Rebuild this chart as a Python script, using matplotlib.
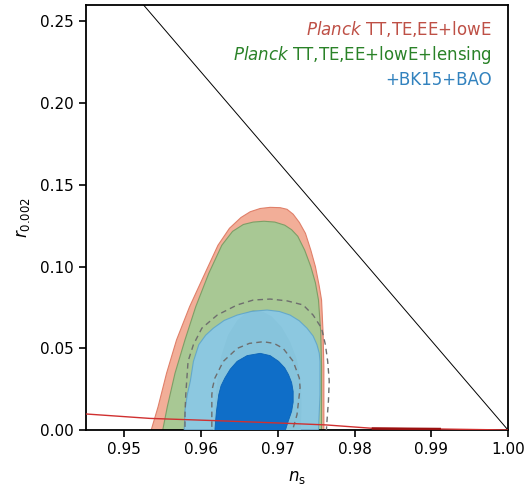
import matplotlib
matplotlib.use("Agg")
import matplotlib.pyplot as plt

plt.rcParams['mathtext.fontset'] = 'custom'
plt.rcParams['mathtext.it'] = 'DejaVu Sans:italic'
plt.rcParams['mathtext.rm'] = 'DejaVu Sans'

# ---- data (ns, r) contour outlines ----
red95_ns = [0.9535, 0.9535, 0.9544, 0.9555, 0.9568, 0.9585, 0.9605, 0.9622, 0.9637, 0.9652,
            0.9664, 0.9677, 0.9690, 0.9703, 0.9712, 0.9720, 0.9728, 0.9736, 0.9743, 0.9749,
            0.9754, 0.9757, 0.9759, 0.9760, 0.9760, 0.9760, 0.9760]
red95_r = [-0.01, 0.0, 0.0143, 0.0347, 0.0551, 0.0754, 0.0958, 0.1130, 0.1234, 0.1300,
           0.1335, 0.1355, 0.1362, 0.1360, 0.1350, 0.1320, 0.1270, 0.1203, 0.1100, 0.0999,
           0.0880, 0.0795, 0.0592, 0.0387, 0.0183, 0.0, -0.01]

green95_ns = [0.9550, 0.9550, 0.9556, 0.9566, 0.9579, 0.9593, 0.9610, 0.9627, 0.9641, 0.9655,
              0.9668, 0.9682, 0.9696, 0.9709, 0.9718, 0.9726, 0.9735, 0.9743, 0.9749,
              0.9753, 0.9756, 0.9757, 0.9757, 0.9757, 0.9757]
green95_r = [-0.01, 0.0, 0.0143, 0.0347, 0.0551, 0.0754, 0.0958, 0.1130, 0.1215, 0.1257,
             0.1272, 0.1277, 0.1272, 0.1253, 0.1225, 0.1185, 0.1100, 0.0999, 0.0900,
             0.0795, 0.0592, 0.0387, 0.0183, 0.0, -0.01]

green68_ns = [0.9615, 0.9616, 0.9618, 0.9621, 0.9626, 0.9635, 0.9647, 0.9658, 0.9668, 0.9680,
              0.9692, 0.9705, 0.9716, 0.9725, 0.9730, 0.9731, 0.9730, 0.9730]
green68_r = [-0.01, 0.0, 0.015, 0.030, 0.045, 0.058, 0.067, 0.0715, 0.0732, 0.0725,
             0.0695, 0.063, 0.054, 0.043, 0.030, 0.015, 0.0, -0.01]

blue95_ns = [0.9577, 0.9578, 0.9579, 0.9582, 0.9586, 0.9590, 0.9597, 0.9606, 0.9616, 0.9630,
             0.9647, 0.9666, 0.9686, 0.9702, 0.9716, 0.9728, 0.9738, 0.9746, 0.9751, 0.9754,
             0.9755, 0.9755, 0.9753, 0.9753]
blue95_r = [-0.01, 0.0, 0.0120, 0.0216, 0.0300, 0.0420, 0.0522, 0.0580, 0.0623, 0.0670,
            0.0703, 0.0726, 0.0734, 0.0725, 0.0703, 0.0668, 0.0623, 0.0575, 0.0522, 0.0470,
            0.0420, 0.0216, 0.0, -0.01]

blue68_ns = [0.9618, 0.9618, 0.9619, 0.9620, 0.9623, 0.9626, 0.9631, 0.9638, 0.9647, 0.9660,
             0.9677, 0.9690, 0.9701, 0.9709, 0.9714, 0.9718, 0.9720, 0.9720, 0.9718, 0.9714,
             0.9710, 0.9710]
blue68_r = [-0.01, 0.0, 0.0060, 0.0114, 0.0216, 0.0270, 0.0318, 0.0372, 0.0420, 0.0455,
            0.0469, 0.0455, 0.0420, 0.0380, 0.0338, 0.0290, 0.0236, 0.0170, 0.0114, 0.0060,
            0.0, -0.01]

dash95_ns = [0.9579, 0.9579, 0.9580, 0.9583, 0.9590, 0.9601, 0.9621, 0.9647, 0.9668, 0.9690,
             0.9712, 0.9733, 0.9746, 0.9757, 0.9762, 0.9765, 0.9767, 0.9766, 0.9764, 0.9762]
dash95_r = [-0.01, 0.0100, 0.0216, 0.0420, 0.0522, 0.0623, 0.0703, 0.0765, 0.0795, 0.0801,
            0.0790, 0.0765, 0.0703, 0.0623, 0.0522, 0.0420, 0.0300, 0.0180, 0.0050, -0.01]

dash68_ns = [0.9614, 0.9614, 0.9614, 0.9615, 0.9618, 0.9629, 0.9647, 0.9663, 0.9681, 0.9695,
             0.9707, 0.9720, 0.9728, 0.9729, 0.9728, 0.9725, 0.9720, 0.9719]
dash68_r = [-0.01, 0.0057, 0.0216, 0.0260, 0.0318, 0.0420, 0.0499, 0.0530, 0.0540, 0.0530,
            0.0499, 0.0420, 0.0318, 0.0260, 0.0216, 0.0094, 0.0012, -0.01]

diag_ns = [0.9525, 1.0]
diag_r = [0.26, 0.0]

model_ns = [0.945, 0.9533, 0.962, 0.9711, 0.9763, 0.9824, 0.9911, 1.0]
model_r = [0.0098, 0.0071, 0.0057, 0.0041, 0.0031, 0.0010, 0.0006, 0.0]
model_hi_ns = [0.9824, 0.9911]
model_hi_r = [0.0009, 0.0006]

xticks = [0.95, 0.96, 0.97, 0.98, 0.99, 1.00]
yticks = [0.00, 0.05, 0.10, 0.15, 0.20, 0.25]
labels = [r'$\mathit{Planck}$ TT,TE,EE+lowE',
          r'$\mathit{Planck}$ TT,TE,EE+lowE+lensing',
          '+BK15+BAO']
label_colors = ['#BE5046', '#2A8228', '#3282BE']

# ---- figure ----
fig = plt.figure(figsize=(5.28, 4.93), dpi=100)
ax = fig.add_axes([0.1629, 0.1278, 0.7992, 0.8621])

ax.fill(red95_ns, red95_r, facecolor='#F2AE98', edgecolor='#E0806A', lw=0.8, zorder=1)
ax.fill(green95_ns, green95_r, facecolor='#A8C894', edgecolor='#7E9E66', lw=0.8, zorder=2)
ax.fill(green68_ns, green68_r, facecolor='#8FB07A', edgecolor='none', lw=0, zorder=3)
ax.fill(blue95_ns, blue95_r, facecolor='#86C9F2', edgecolor='#5AA2CC', lw=0.8,
        alpha=0.82, zorder=4)
ax.fill(blue68_ns, blue68_r, facecolor='#0F6EC8', edgecolor='#0B64B8', lw=0.6, zorder=5)
ax.plot(dash95_ns, dash95_r, color='#6E6E6E', lw=1.0, ls=(0, (4, 3)), zorder=6)
ax.plot(dash68_ns, dash68_r, color='#6E6E6E', lw=1.0, ls=(0, (4, 3)), zorder=6)

ax.plot(diag_ns, diag_r, color='black', lw=0.7, zorder=7)
ax.plot(model_ns, model_r, color='#D03030', lw=1.0, zorder=8)
ax.plot(model_hi_ns, model_hi_r, color='#9A1010', lw=1.8, zorder=8)

ax.set_xlim(0.945, 1.0)
ax.set_ylim(0.0, 0.26)
ax.set_xticks(xticks)
ax.set_xticklabels(['%.2f' % v for v in xticks])
ax.set_yticks(yticks)
ax.set_yticklabels(['%.2f' % v for v in yticks])
ax.tick_params(direction='out', length=5, width=1.2, labelsize=11)
for s in ax.spines.values():
    s.set_linewidth(1.3)

ax.set_xlabel(r'$n_{\rm s}$', fontsize=12, labelpad=8)
ax.set_ylabel(r'$r_{0.002}$', fontsize=12, labelpad=6)

ys = [0.929, 0.871, 0.812]
for lab, col, yy in zip(labels, label_colors, ys):
    ax.text(0.961, yy, lab, transform=ax.transAxes, ha='right', va='baseline',
            color=col, fontsize=12, family='DejaVu Sans', zorder=10)

fig.savefig('out.png', dpi=100)
